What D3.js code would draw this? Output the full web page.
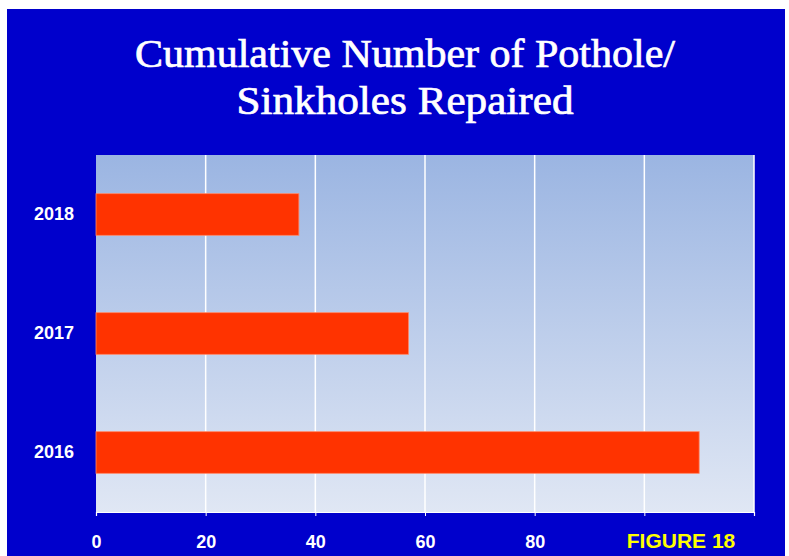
<!DOCTYPE html>
<html><head><meta charset="utf-8">
<script src="https://cdn.jsdelivr.net/npm/d3@7"></script>
<style>body{margin:0;background:#fff}svg{display:block}</style>
</head><body>
<svg id="c" width="789" height="556"></svg>
<script>
const years = ["2018", "2017", "2016"];
const repaired = [37, 57, 110];
const xTicks = [0, 20, 40, 60, 80, 100, 120];
const xTickLabels = ["0", "20", "40", "60", "80", "", ""];
const titleLines = ["Cumulative Number of Pothole/", "Sinkholes Repaired"];
const figureLabel = "FIGURE 18";

const svg = d3.select("#c");
svg.append("rect").attr("x", 7).attr("y", 9).attr("width", 778).attr("height", 547).attr("fill", "#0000cc");

const defs = svg.append("defs");
const g = defs.append("linearGradient").attr("id", "bg").attr("x1", 0).attr("y1", 0).attr("x2", 0).attr("y2", 1);
g.append("stop").attr("offset", "0%").attr("stop-color", "#9bb5e2");
g.append("stop").attr("offset", "100%").attr("stop-color", "#e0e7f4");

const m = {l: 96, r: 754, t: 155, b: 512};
const x = d3.scaleLinear().domain([0, 120]).range([m.l, m.r]);
const y = d3.scaleBand().domain(years).range([m.t, m.b]).paddingInner(0.65).paddingOuter(0.325);

svg.append("rect").attr("x", m.l).attr("y", m.t).attr("width", m.r - m.l).attr("height", m.b - m.t).attr("fill", "url(#bg)");

svg.append("g").selectAll("line").data(xTicks.slice(1)).join("line")
  .attr("x1", d => x(d)).attr("x2", d => x(d)).attr("y1", m.t).attr("y2", m.b)
  .attr("stroke", "#ffffff").attr("stroke-width", 1.5);

svg.append("g").selectAll("rect").data(years).join("rect")
  .attr("x", x(0)).attr("y", d => y(d))
  .attr("width", (d, i) => x(repaired[i]) - x(0)).attr("height", y.bandwidth())
  .attr("fill", "#ff3300").attr("stroke", "#ff8866").attr("stroke-width", 0.8);

const xAxis = svg.append("g").attr("transform", `translate(0,${m.b})`)
  .call(d3.axisBottom(x).tickValues(xTicks).tickFormat((d, i) => xTickLabels[i]).tickSize(4).tickPadding(19));
xAxis.select(".domain").attr("stroke", "#ffffff").attr("stroke-width", 1.2);
xAxis.selectAll(".tick line").attr("stroke", "#ffffff");
xAxis.selectAll("text").attr("fill", "#ffffff").attr("font-family", "'Liberation Sans Narrow', 'Liberation Sans', sans-serif")
  .attr("font-weight", "bold").attr("font-size", 18);

const yAxis = svg.append("g").attr("transform", `translate(${m.l},0)`)
  .call(d3.axisLeft(y).tickSize(0).tickPadding(22));
yAxis.select(".domain").remove();
yAxis.selectAll("text").attr("fill", "#ffffff").attr("font-family", "'Liberation Sans Narrow', 'Liberation Sans', sans-serif")
  .attr("font-weight", "bold").attr("font-size", 18);

svg.append("g").selectAll("text").data(titleLines).join("text")
  .attr("x", 405).attr("y", (d, i) => 67 + i * 47).attr("text-anchor", "middle")
  .attr("fill", "#ffffff").attr("stroke", "#ffffff").attr("stroke-width", 0.7)
  .attr("font-family", "'Liberation Serif', serif").attr("font-size", 39)
  .attr("textLength", (d, i) => i === 0 ? 540 : 337).attr("lengthAdjust", "spacingAndGlyphs")
  .text(d => d);

svg.append("text").attr("x", 681).attr("y", 548).attr("text-anchor", "middle")
  .attr("fill", "#ffff00").attr("font-family", "'Liberation Sans Narrow', 'Liberation Sans', sans-serif")
  .attr("font-weight", "bold").attr("font-size", 21).text(figureLabel);
</script>
</body></html>
